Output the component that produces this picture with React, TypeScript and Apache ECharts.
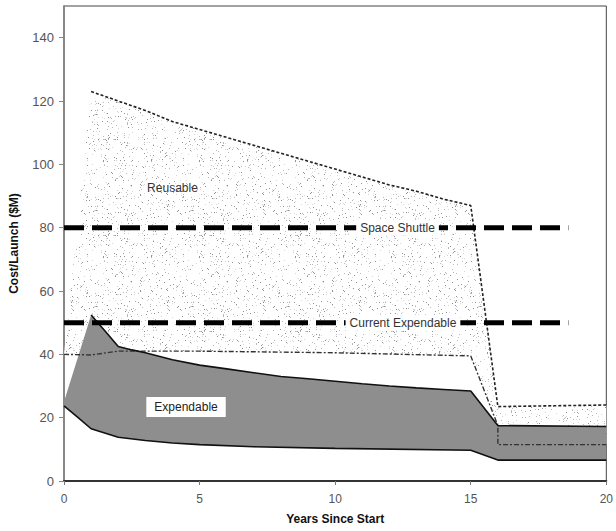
import React, { useEffect, useRef } from 'react';
import * as echarts from 'echarts';

// ---- data (years, $M per launch) ----
const xTicks = [0, 5, 10, 15, 20];
const yTicks = [0, 20, 40, 60, 80, 100, 120, 140];

const reusableUpper = [
  [0, 40], [1, 123], [2, 120], [3, 117], [4, 113.5], [5, 111], [6, 108.5], [7, 106],
  [8, 103.5], [9, 101], [10, 98.5], [11, 96], [12, 93.5], [13, 91.5], [14, 89], [15, 87],
  [16, 23.5], [20, 24],
];
const reusableLower = [
  [0, 40], [1, 39.8], [2, 41], [5, 41], [10, 40.5], [15, 39.5], [16, 17.5], [16, 11.5], [20, 11.5],
];
const expendableUpper = [
  [0, 25], [1, 52.4], [1.6, 46.5], [2, 42.5], [2.5, 41.4], [3, 40.5], [4, 38.3], [5, 36.6],
  [6, 35.4], [7, 34.2], [8, 33], [9, 32.3], [10, 31.5], [11, 30.7], [12, 30], [13, 29.4],
  [14, 28.9], [15, 28.4], [16, 17.5], [20, 17.2],
];
const expendableLower = [
  [0, 23.7], [0.5, 20.2], [1, 16.5], [2, 13.8], [3, 12.8], [4, 12], [5, 11.5], [7, 10.8],
  [10, 10.3], [15, 9.7], [16, 6.6], [20, 6.6],
];
const spaceShuttle = 80;
const currentExpendable = 50;
const refLineEnd = 18.6;

const refLabels = [
  { name: 'Space Shuttle', x: 12.3, y: 80 },
  { name: 'Current Expendable', x: 12.5, y: 50 },
];
const regionLabels = [{ name: 'Reusable', x: 4.0, y: 92.5 }];
const boxLabels = [{ name: 'Expendable', x: 4.5, y: 23.4 }];

const FONT = '"Liberation Sans", Arial, sans-serif';

function makeStipple() {
  const size = 96;
  const c = document.createElement('canvas');
  c.width = size;
  c.height = size;
  const ctx = c.getContext('2d')!;
  ctx.fillStyle = '#ffffff';
  ctx.fillRect(0, 0, size, size);
  let s = 987654321;
  const rnd = () => {
    s = (Math.imul(s, 1103515245) + 12345) >>> 0;
    return s / 4294967296;
  };
  for (let i = 0; i < 560; i++) {
    const x = Math.floor(rnd() * size);
    const y = Math.floor(rnd() * size);
    const r = rnd();
    ctx.fillStyle = r < 0.3 ? '#909090' : r < 0.65 ? '#b8b8b8' : '#d6d6d6';
    ctx.fillRect(x, y, 1, 1);
  }
  return c;
}

function bandSeries(upper: number[][], lower: number[][], fill: any, z: number) {
  const poly = upper.concat(lower.slice().reverse());
  return {
    type: 'custom',
    coordinateSystem: 'cartesian2d',
    z,
    silent: true,
    clip: false,
    data: [[0, 0]],
    renderItem: (_params: any, api: any) => ({
      type: 'polygon',
      shape: { points: poly.map((p) => api.coord(p)) },
      style: { fill, stroke: 'none' },
    }),
  };
}

function labelSeries(items: { name: string; x: number; y: number }[], extra: any) {
  return {
    type: 'custom',
    coordinateSystem: 'cartesian2d',
    z: 6,
    silent: true,
    clip: false,
    data: items.map((d) => [d.x, d.y]),
    renderItem: (params: any, api: any) => {
      const p = api.coord([api.value(0), api.value(1)]);
      return {
        type: 'text',
        x: p[0],
        y: p[1],
        style: {
          text: items[params.dataIndex].name,
          font: `12px ${FONT}`,
          fill: '#333',
          align: 'center',
          verticalAlign: 'middle',
          ...extra,
        },
      };
    },
  };
}

export default function App() {
  const ref = useRef<HTMLDivElement>(null);
  useEffect(() => {
    document.body.style.margin = '0';
    const chart = echarts.init(ref.current!, null, { renderer: 'svg' });
    const stipple = { image: makeStipple(), repeat: 'repeat' };

    const lineBase = { type: 'line', symbol: 'none', silent: true, animation: false };

    chart.setOption({
      animation: false,
      backgroundColor: '#ffffff',
      grid: { left: 63, right: 6, top: 6, bottom: 50, show: true, borderColor: '#444', borderWidth: 1 },
      xAxis: {
        type: 'value',
        min: xTicks[0],
        max: xTicks[xTicks.length - 1],
        interval: 5,
        name: 'Years Since Start',
        nameLocation: 'middle',
        nameGap: 32,
        nameTextStyle: { fontFamily: FONT, fontWeight: 'bold', fontSize: 12, color: '#111' },
        axisLine: { show: true, lineStyle: { color: '#333', width: 2 } },
        axisTick: { show: true, length: 4, inside: false, lineStyle: { color: '#777' } },
        axisLabel: { fontFamily: FONT, fontSize: 12, color: '#555', margin: 12 },
        splitLine: { show: false },
      },
      yAxis: {
        type: 'value',
        min: yTicks[0],
        max: 150,
        interval: 20,
        name: 'Cost/Launch ($M)',
        nameLocation: 'middle',
        nameGap: 44,
        nameTextStyle: { fontFamily: FONT, fontWeight: 'bold', fontSize: 12, color: '#111' },
        axisLine: { show: true, lineStyle: { color: '#888', width: 2 } },
        axisTick: { show: true, length: 5, lineStyle: { color: '#888' } },
        axisLabel: { fontFamily: FONT, fontSize: 13, color: '#555', margin: 10, showMaxLabel: false },
        splitLine: { show: false },
      },
      series: [
        bandSeries(reusableUpper, reusableLower, stipple, 1),
        bandSeries(expendableUpper, expendableLower, '#8e8e8e', 2),
        {
          ...lineBase,
          z: 3,
          data: reusableUpper.slice(1),
          lineStyle: { color: '#222', width: 1.6, type: [3, 2] },
        },
        {
          ...lineBase,
          z: 3,
          data: reusableLower,
          lineStyle: { color: '#333', width: 1.4, type: [5, 2, 2, 2] },
        },
        {
          ...lineBase,
          z: 3,
          data: expendableUpper.slice(1),
          lineStyle: { color: '#111', width: 1.6 },
        },
        {
          ...lineBase,
          z: 3,
          data: expendableLower,
          lineStyle: { color: '#111', width: 1.6 },
        },
        {
          ...lineBase,
          z: 4,
          data: [[0, spaceShuttle], [refLineEnd, spaceShuttle]],
          lineStyle: { color: '#000', width: 5, type: [20, 8], cap: 'butt' },
        },
        {
          ...lineBase,
          z: 4,
          data: [[0, currentExpendable], [refLineEnd, currentExpendable]],
          lineStyle: { color: '#000', width: 5, type: [20, 8], cap: 'butt' },
        },
        labelSeries(refLabels, { backgroundColor: '#ffffff', padding: [2, 4] }),
        labelSeries(regionLabels, {}),
        labelSeries(boxLabels, { fill: '#222', backgroundColor: '#ffffff', padding: [4, 8] }),
      ],
    });
    return () => chart.dispose();
  }, []);
  return <div ref={ref} style={{ width: 616, height: 531 }} />;
}
